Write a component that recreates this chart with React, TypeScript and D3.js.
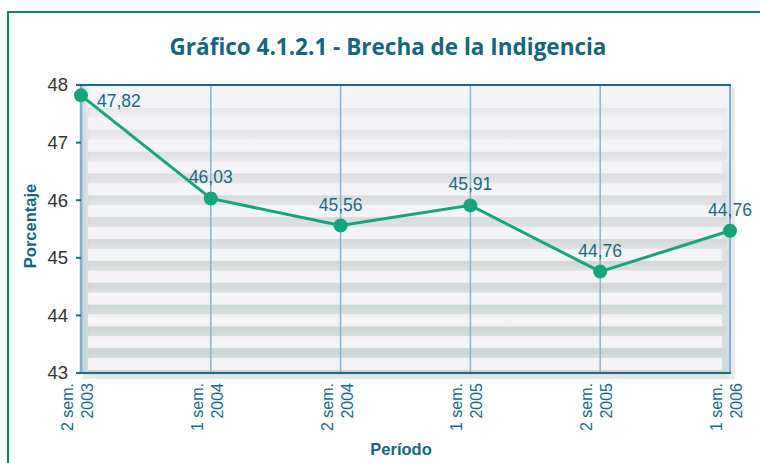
import React from 'react';
import * as d3 from 'd3';

// data
const periods = ["2 sem. 2003", "1 sem. 2004", "2 sem. 2004", "1 sem. 2005", "2 sem. 2005", "1 sem. 2006"];
const values = [47.82, 46.03, 45.56, 45.91, 44.76, 45.47];
const valueLabels = ["47,82", "46,03", "45,56", "45,91", "44,76", "44,76"];
const yTicks = [43, 44, 45, 46, 47, 48];

const W = 760, H = 463;
const plot = { left: 81, right: 730, top: 85, bottom: 373 };

const teal = "#14667f";
const lineColor = "#16a57b";
const gridBlue = "#86b5d2";

export default function App() {
  const x = d3.scalePoint<string>().domain(periods).range([plot.left, plot.right]);
  const y = d3.scaleLinear().domain([43, 48]).range([plot.bottom, plot.top]);

  const line = d3.line<number>()
    .x((d, i) => x(periods[i]) as number)
    .y(d => y(d));

  // decorative stripes of the background
  const nStripes = 13;
  const stripeH = 12;
  const stripeTop = plot.top + 11;
  const stripeStep = (plot.bottom - 3 - stripeTop - stripeH) / (nStripes - 1);
  const stripes = d3.range(nStripes).map(k => stripeTop + k * stripeStep);

  return (
    <svg width={W} height={H} style={{ position: 'absolute', left: 0, top: 0 }}
      fontFamily="'Liberation Sans', Arial, sans-serif">
      <defs>
        <linearGradient id="bg" x1="0" y1="0" x2="0" y2="1">
          <stop offset="0" stopColor="#f6f6f8" />
          <stop offset="0.3" stopColor="#e6e7ea" />
          <stop offset="1" stopColor="#d2ddd7" />
        </linearGradient>
        <linearGradient id="gap" x1="0" y1="0" x2="0" y2="1">
          <stop offset="0" stopColor="#000" stopOpacity="0.05" />
          <stop offset="1" stopColor="#000" stopOpacity="0" />
        </linearGradient>
        <linearGradient id="leftShade" x1="0" y1="0" x2="1" y2="0">
          <stop offset="0" stopColor="#b9cdd6" stopOpacity="0.7" />
          <stop offset="1" stopColor="#b9cdd6" stopOpacity="0" />
        </linearGradient>
      </defs>

      <rect x={0} y={0} width={W} height={H} fill="#fff" />
      {/* outer frame */}
      <rect x={8} y={12} width={W + 10} height={H} fill="none" stroke="#0b8c50" strokeWidth={2} />

      <text x={388} y={55} textAnchor="middle" fill={teal} fontSize={22.5}
        fontWeight={700} fontFamily="'Open Sans', 'Noto Sans', sans-serif">
        Gráfico 4.1.2.1 - Brecha de la Indigencia
      </text>

      {/* plot shadow */}
      <rect x={plot.left + 2} y={plot.top + 3} width={plot.right - plot.left + 3}
        height={plot.bottom - plot.top + 3} fill="#e6e9ea" />
      {/* plot background */}
      <rect x={plot.left} y={plot.top} width={plot.right - plot.left}
        height={plot.bottom - plot.top} fill="url(#bg)" />
      <rect x={plot.left} y={plot.top} width={10}
        height={plot.bottom - plot.top} fill="url(#leftShade)" />
      {stripes.map((s, i) => (
        <g key={i}>
          <rect x={plot.left + 7} y={s + stripeH} width={plot.right - plot.left - 10}
            height={stripeStep - stripeH} fill="url(#gap)" />
          <rect x={plot.left + 7} y={s} width={plot.right - plot.left - 15}
            height={stripeH} fill="#f4f4f6" />
        </g>
      ))}

      {/* vertical grid lines */}
      {periods.slice(1, -1).map(p => (
        <line key={p} x1={x(p)} x2={x(p)} y1={plot.top} y2={plot.bottom}
          stroke={gridBlue} strokeWidth={1.5} />
      ))}

      {/* frame */}
      <line x1={plot.left} x2={plot.left} y1={plot.top} y2={plot.bottom} stroke="#7fb0cd" strokeWidth={2.5} />
      <line x1={plot.right} x2={plot.right} y1={plot.top} y2={plot.bottom} stroke="#7fb0cd" strokeWidth={2} />
      <line x1={plot.left - 1} x2={plot.right + 1} y1={plot.top} y2={plot.top} stroke="#1d6b80" strokeWidth={2} />
      <line x1={plot.left - 4} x2={plot.right + 1} y1={plot.bottom} y2={plot.bottom} stroke="#1d6b80" strokeWidth={2} />

      {/* y axis */}
      {yTicks.map(t => (
        <g key={t}>
          <line x1={plot.left - 5} x2={plot.left} y1={y(t)} y2={y(t)} stroke="#1d6b80" strokeWidth={2} />
          <text x={plot.left - 13} y={y(t)} dy="0.35em" textAnchor="end" fontSize={18.5} fill="#333">
            {t}
          </text>
        </g>
      ))}
      <text transform={`translate(36,226) rotate(-90)`} textAnchor="middle" fontSize={16.5}
        fontWeight={700} fill={teal}>Porcentaje</text>

      {/* x axis labels */}
      {periods.map(p => {
        const cut = p.lastIndexOf(" ");
        return (
          <text key={p} transform={`translate(${x(p)},383) rotate(-90)`} textAnchor="end"
            fontSize={16} fill="#17698a">
            <tspan x={0} y={-8}>{p.slice(0, cut)}</tspan>
            <tspan x={0} y={12}>{p.slice(cut + 1)}</tspan>
          </text>
        );
      })}
      <text x={401} y={455} textAnchor="middle" fontSize={16.5} fontWeight={700} fill={teal}>
        Período
      </text>

      {/* series */}
      <path d={line(values) || ""} fill="none" stroke={lineColor} strokeWidth={3} />
      {values.map((v, i) => (
        <circle key={i} cx={x(periods[i])} cy={y(v)} r={7} fill={lineColor} />
      ))}
      {values.map((v, i) => (
        i === 0
          ? <text key={i} x={(x(periods[i]) as number) + 16} y={y(v) + 12} fontSize={17.5} fill="#1b6785">
              {valueLabels[i]}
            </text>
          : <text key={i} x={x(periods[i])} y={y(v) - 15} textAnchor="middle" fontSize={17.5} fill="#1b6785">
              {valueLabels[i]}
            </text>
      ))}
    </svg>
  );
}
